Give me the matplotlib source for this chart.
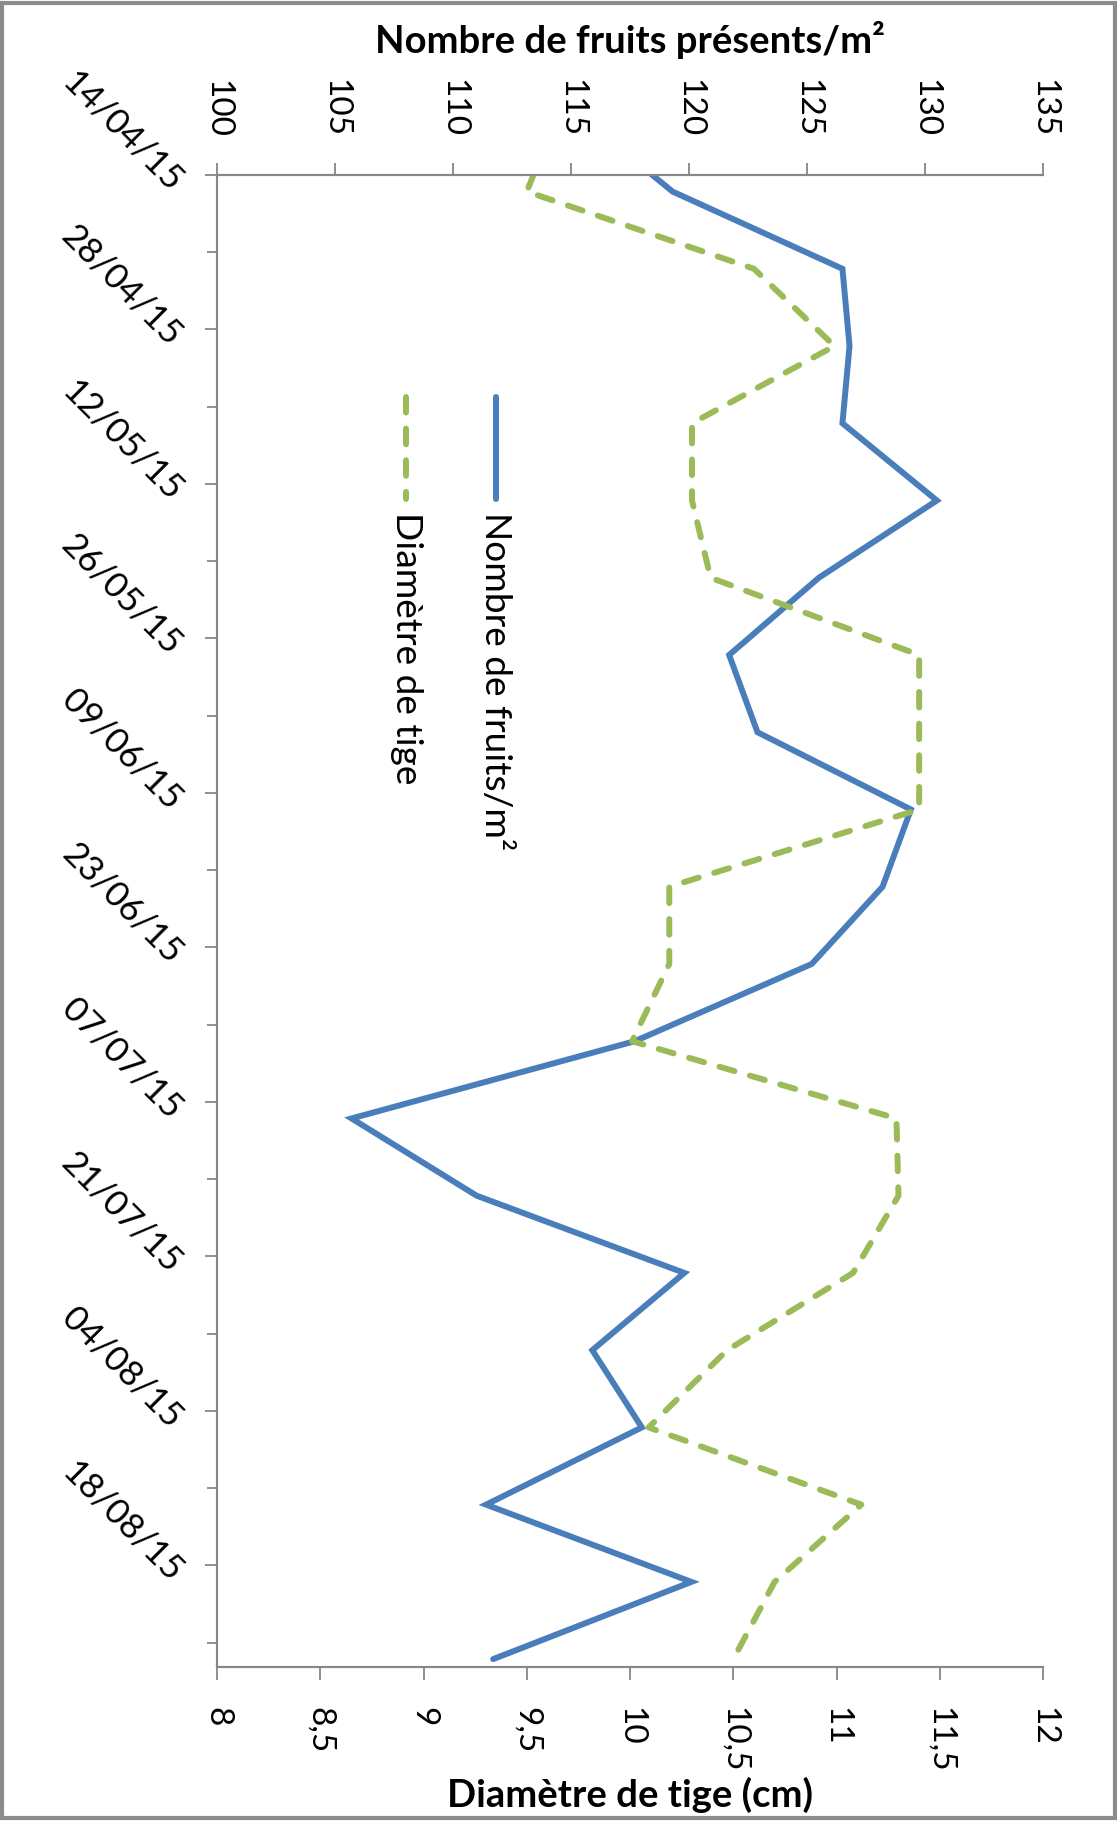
import matplotlib
matplotlib.use("Agg")
import matplotlib.pyplot as plt
import matplotlib.dates as mdates
from matplotlib.patches import Rectangle
import pandas as pd

plt.rcParams['font.family'] = ['Lato', 'DejaVu Sans']

# weekly measurements (first one falls before the axis start and is clipped)
dates = ["08/04/15", "15/04/15", "22/04/15", "29/04/15", "06/05/15", "13/05/15",
         "20/05/15", "27/05/15", "03/06/15", "10/06/15", "17/06/15", "24/06/15",
         "01/07/15", "08/07/15", "15/07/15", "22/07/15", "29/07/15", "05/08/15",
         "12/08/15", "19/08/15", "26/08/15"]

fruits = [115.3, 119.3, 126.5, 126.8, 126.5, 130.5, 125.5, 121.7, 122.9, 129.4,
          128.2, 125.2, 117.7, 105.7, 111.0, 119.8, 115.9, 118.0, 111.4, 120.1, 111.7]

diametre = [9.65, 9.50, 10.60, 10.99, 10.30, 10.30, 10.39, 11.40, 11.40, 11.40,
            10.19, 10.19, 10.01, 11.29, 11.30, 11.08, 10.47, 10.09, 11.12, 10.70, 10.50]

fruit_ticks = [100, 105, 110, 115, 120, 125, 130, 135]
diam_ticks = [8, 8.5, 9, 9.5, 10, 10.5, 11, 11.5, 12]
diam_labels = ["8", "8,5", "9", "9,5", "10", "10,5", "11", "11,5", "12"]

blue = "#4a7ebb"
green = "#9bbb59"
grey = "#878787"
dash = (2.6, 2.7)

d = pd.to_datetime(dates, format="%d/%m/%y") + pd.Timedelta(hours=12)  # points sit mid-day like Excel

fig = plt.figure(figsize=(11.17, 18.21), dpi=100)
ax = fig.add_axes([0.1943, 0.0846, 0.7395, 0.8193])
ax2 = ax.twiny()

# chart is turned a quarter clockwise: values across, dates down
ax.plot(fruits, d, color=blue, lw=4.3, solid_capstyle="round", solid_joinstyle="miter")
ax2.plot(diametre, d, color=green, lw=4.3, dashes=dash, dash_capstyle="round")

ax.set_xlim(100, 135)
ax2.set_xlim(8, 12)
ax.set_ylim(pd.Timestamp("2015-08-27 05:00"), pd.Timestamp("2015-04-14"))

ax.xaxis.tick_top()
ax2.xaxis.tick_bottom()

ax.set_xticks(fruit_ticks)
ax.set_xticklabels([str(v) for v in fruit_ticks])
ax2.set_xticks(diam_ticks)
ax2.set_xticklabels(diam_labels)

ax.set_yticks(pd.date_range("2015-04-14", "2015-08-27", freq="14D"))
ax.set_yticks(pd.date_range("2015-04-21", "2015-08-27", freq="14D"), minor=True)
ax.yaxis.set_major_formatter(mdates.DateFormatter("%d/%m/%y"))

ax.tick_params(axis="x", which="major", top=True, bottom=False, labeltop=True, labelbottom=False,
               length=9, width=1.3, color=grey, labelsize=24, labelrotation=-90, pad=18)
ax2.tick_params(axis="x", which="major", top=False, bottom=True, labeltop=False, labelbottom=True,
                length=9, width=1.3, color=grey, labelsize=24, labelrotation=-90, pad=19.5)
ax.tick_params(axis="y", which="major", length=9, width=1.3, color=grey, labelsize=25.5, pad=12)
ax.tick_params(axis="y", which="minor", length=7, width=1.3, color=grey)
plt.setp(ax.get_yticklabels(), rotation=-45, ha="right", va="top", rotation_mode="anchor")

for a in (ax, ax2):
    a.spines["right"].set_visible(False)
    for s in ("top", "bottom", "left"):
        a.spines[s].set_color(grey)
        a.spines[s].set_linewidth(1.5)

# legend, drawn rotated like the rest of the chart
ax.plot([0.3372, 0.3372], [0.8512, 0.7828], transform=ax.transAxes, color=blue, lw=4.3,
        solid_capstyle="round")
ax.text(0.3372, 0.7741, "Nombre de fruits/m²", transform=ax.transAxes, rotation=-90,
        ha="center", va="top", fontsize=26.7)
ax.plot([0.2288, 0.2288], [0.8512, 0.7828], transform=ax.transAxes, color=green, lw=4.3,
        dashes=dash, dash_capstyle="round")
ax.text(0.2288, 0.7741, "Diamètre de tige", transform=ax.transAxes, rotation=-90,
        ha="center", va="top", fontsize=26.7)

fig.text(0.564, 0.9707, "Nombre de fruits présents/m²", ha="center", va="baseline",
         fontsize=27.5, fontweight="bold")
fig.text(0.564, 0.0077, "Diamètre de tige (cm)", ha="center", va="baseline",
         fontsize=27.5, fontweight="bold")

fig.patches.append(Rectangle((0.002, 0.0015), 0.996, 0.997, transform=fig.transFigure,
                             fill=False, edgecolor="#8c8c8c", lw=3))

fig.savefig("out.png", dpi=100)
